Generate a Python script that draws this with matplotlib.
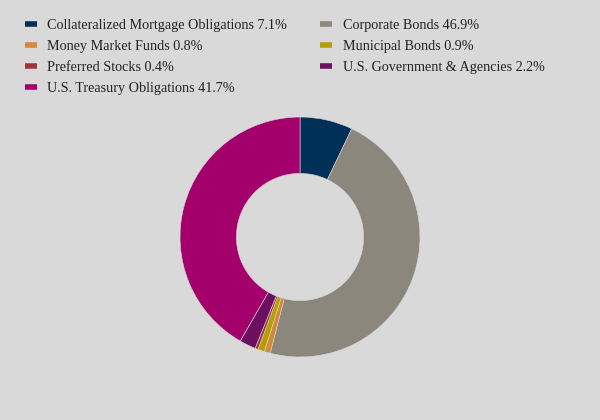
import matplotlib.pyplot as plt
from matplotlib.lines import Line2D

labels = ["Collateralized Mortgage Obligations", "Corporate Bonds", "Money Market Funds",
          "Municipal Bonds", "Preferred Stocks", "U.S. Government & Agencies",
          "U.S. Treasury Obligations"]
values = [7.1, 46.9, 0.8, 0.9, 0.4, 2.2, 41.7]
colors = ["#003057", "#8b877d", "#d5873a", "#b59f00", "#a4343a", "#6c0f5e", "#a3006b"]

plt.rcParams['font.family'] = ['Liberation Serif', 'DejaVu Serif']
bg = "#d9d9d9"

fig = plt.figure(figsize=(6, 4.2), dpi=100, facecolor=bg)
ax = fig.add_axes([0.3, 0.4357 - 0.2857, 0.4, 0.5714])
ax.set_facecolor(bg)
ax.pie(values, colors=colors, startangle=90, counterclock=False, radius=1,
       wedgeprops=dict(width=0.47, edgecolor=bg, linewidth=0.4))
ax.set_xlim(-1, 1)
ax.set_ylim(-1, 1)
ax.set_aspect('equal')
ax.axis('off')

handles = [Line2D([0], [0], color=c, lw=4, solid_capstyle='butt') for c in colors]
leg_labels = [f"{l} {v}%" for l, v in zip(labels, values)]
# matplotlib fills legend columns top-down, so reorder to read row by row
order = [0, 2, 4, 6, 1, 3, 5]
fig.legend([handles[i] for i in order], [leg_labels[i] for i in order],
           loc='upper left', bbox_to_anchor=(0.020, 0.986),
           ncol=2, frameon=False, fontsize=10.2, handlelength=0.85, handletextpad=0.75,
           columnspacing=2.3, labelspacing=0.58, labelcolor='#222222')

fig.savefig("out.png", dpi=100, facecolor=bg)
